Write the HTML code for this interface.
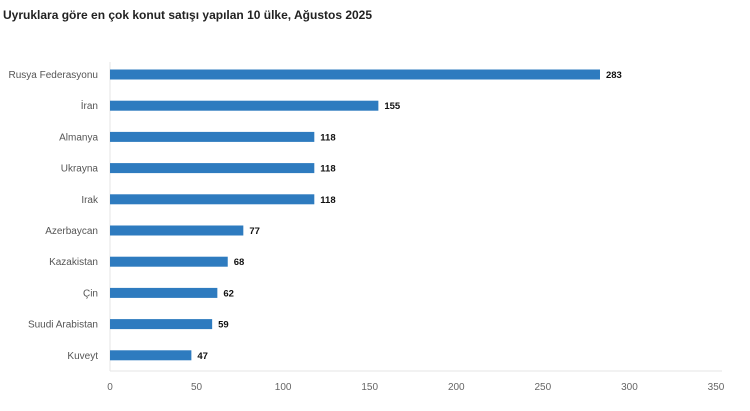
<!DOCTYPE html>
<html><head><meta charset="utf-8"><style>
body{margin:0;background:#fff;width:750px;height:406px;overflow:hidden;font-family:"Liberation Sans",sans-serif}
</style></head><body>
<svg id="chart" width="750" height="406" xmlns="http://www.w3.org/2000/svg">
<text x="3" y="19" font-size="12" font-weight="bold" fill="#222">Uyruklara göre en çok konut satışı yapılan 10 ülke, Ağustos 2025</text>
<g id="plot"></g>
</svg>
<script>
const categories=["Rusya Federasyonu","İran","Almanya","Ukrayna","Irak","Azerbaycan","Kazakistan","Çin","Suudi Arabistan","Kuveyt"];
const values=[283,155,118,118,118,77,68,62,59,47];
const ticks=[0,50,100,150,200,250,300,350];
const x0=110,x1=716,vmax=350,yTop=74.5,step=31.2,barH=10,axisY=371;
const xs=v=>x0+(v/vmax)*(x1-x0);
const ys=i=>yTop+i*step;
const g=document.getElementById('plot');
const NS="http://www.w3.org/2000/svg";
function mk(t,a){const e=document.createElementNS(NS,t);for(const k in a)e.setAttribute(k,a[k]);g.appendChild(e);return e;}
let l=mk('line',{x1:x0,y1:62,x2:x0,y2:axisY,stroke:'#e6e6e6','stroke-width':1});


l=mk('line',{x1:x0,y1:axisY,x2:722,y2:axisY,stroke:'#e6e6e6','stroke-width':1});


ticks.forEach(t=>{
  const e=mk('text',{x:xs(t),y:390,'font-size':10,fill:'#666','text-anchor':'middle'});
  e.textContent=t;
  
  
});
categories.forEach((c,i)=>{
  const y=ys(i);
  const lab=mk('text',{x:98,y:y+3.5,'font-size':10,fill:'#555','text-anchor':'end'});
  lab.textContent=c;
  
  
  const r=mk('rect',{x:x0,y:y-barH/2,width:xs(values[i])-x0,height:barH,fill:'#2e7bbf'});
  
  
  const v=mk('text',{x:xs(values[i])+6,y:y+3.5,'font-size':9.5,'font-weight':'bold',fill:'#111'});
  v.textContent=values[i];
  
  
});
</script>
</body></html>
